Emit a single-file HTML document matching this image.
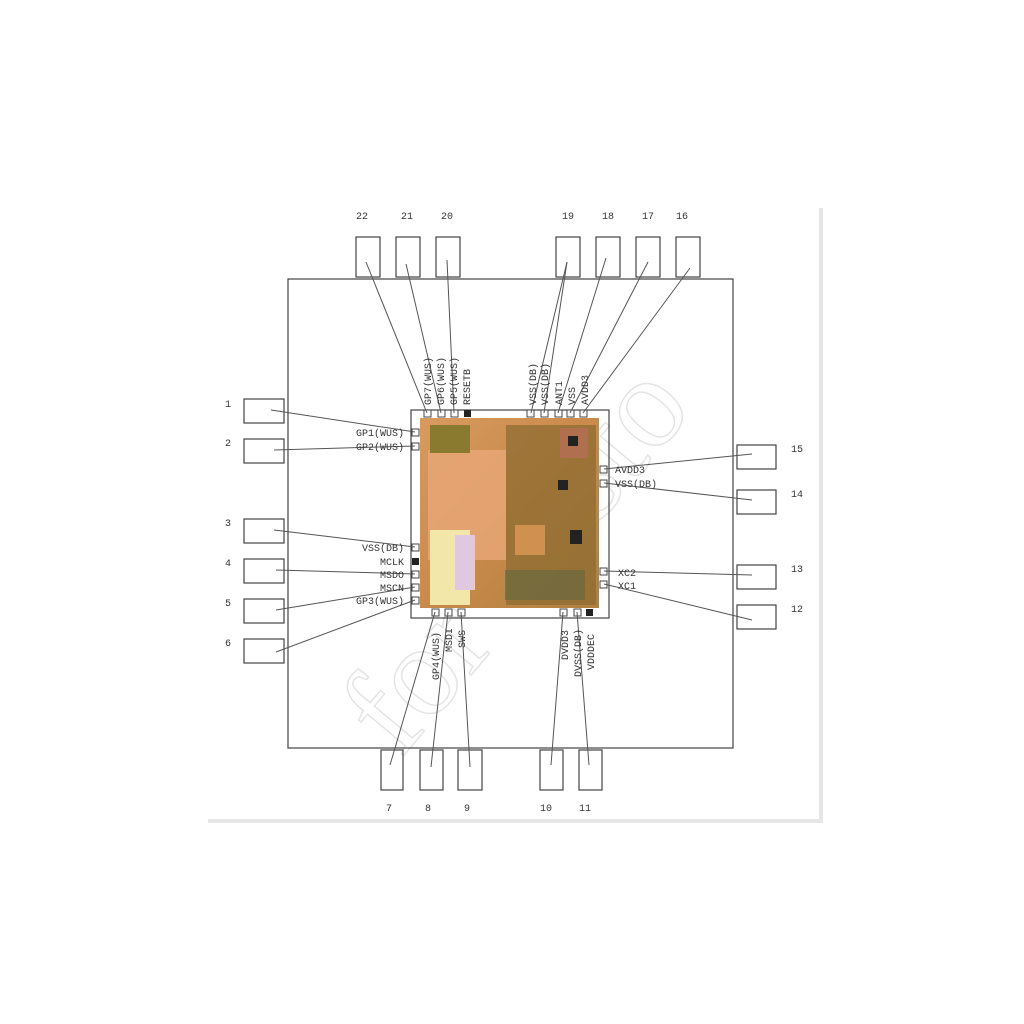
<!DOCTYPE html>
<html><head><style>
html,body{margin:0;padding:0;background:#fff;}
svg{display:block}
text{font-family:"Liberation Mono","DejaVu Sans Mono",monospace;fill:#333;}
</style></head><body>
<svg width="1024" height="1024" viewBox="0 0 1024 1024" xmlns="http://www.w3.org/2000/svg">
<defs>
<linearGradient id="die" x1="0" y1="0" x2="1" y2="1">
<stop offset="0" stop-color="#d89a60"/><stop offset="0.5" stop-color="#c98a4a"/><stop offset="1" stop-color="#b08040"/>
</linearGradient>
</defs>
<rect x="0" y="0" width="1024" height="1024" fill="#fff"/>
<rect x="208" y="208" width="615" height="615" fill="#e6e6e6"/>
<rect x="205" y="205" width="614" height="614" fill="#fff"/>
<text x="400" y="760" font-size="130" style="fill:none;stroke:#e4e4e4;stroke-width:1.5;font-family:'Liberation Serif',serif" transform="rotate(-50 400 760)">for custo</text>
<g fill="none" stroke="#444" stroke-width="1.2">
<rect x="288" y="279" width="445" height="469"/>
<rect x="356" y="237" width="24" height="40"/><rect x="396" y="237" width="24" height="40"/><rect x="436" y="237" width="24" height="40"/>
<rect x="556" y="237" width="24" height="40"/><rect x="596" y="237" width="24" height="40"/><rect x="636" y="237" width="24" height="40"/><rect x="676" y="237" width="24" height="40"/>
<rect x="244" y="399" width="40" height="24"/><rect x="244" y="439" width="40" height="24"/><rect x="244" y="519" width="40" height="24"/>
<rect x="244" y="559" width="40" height="24"/><rect x="244" y="599" width="40" height="24"/><rect x="244" y="639" width="40" height="24"/>
<rect x="737" y="445" width="39" height="24"/><rect x="737" y="490" width="39" height="24"/><rect x="737" y="565" width="39" height="24"/><rect x="737" y="605" width="39" height="24"/>
<rect x="381" y="750" width="22" height="40"/><rect x="420" y="750" width="23" height="40"/><rect x="458" y="750" width="24" height="40"/>
<rect x="540" y="750" width="23" height="40"/><rect x="579" y="750" width="23" height="40"/>
<rect x="411" y="410" width="198" height="208"/>
</g>
<rect x="420" y="418" width="179" height="190" fill="url(#die)"/>
<rect x="428" y="450" width="78" height="110" fill="#e8a878" opacity="0.8"/>
<rect x="430" y="530" width="40" height="75" fill="#f2e6a8"/>
<rect x="455" y="535" width="20" height="55" fill="#e0c8e0"/>
<rect x="430" y="425" width="40" height="28" fill="#8a7a30"/>
<rect x="506" y="425" width="90" height="180" fill="#8a6a30" opacity="0.7"/>
<rect x="560" y="428" width="28" height="30" fill="#b07050"/>
<rect x="568" y="436" width="10" height="10" fill="#222"/>
<rect x="558" y="480" width="10" height="10" fill="#222"/>
<rect x="570" y="530" width="12" height="14" fill="#222"/>
<rect x="515" y="525" width="30" height="30" fill="#d09050"/>
<rect x="505" y="570" width="80" height="30" fill="#6a6a40" opacity="0.7"/>
<g fill="#fff" stroke="#444" stroke-width="1">
<rect x="424" y="410" width="7" height="7"/><rect x="438" y="410" width="7" height="7"/><rect x="451" y="410" width="7" height="7"/>
<rect x="527" y="410" width="7" height="7"/><rect x="541" y="410" width="7" height="7"/><rect x="555" y="410" width="7" height="7"/><rect x="567" y="410" width="7" height="7"/><rect x="580" y="410" width="7" height="7"/>
<rect x="412" y="429" width="7" height="7"/><rect x="412" y="443" width="7" height="7"/><rect x="412" y="544" width="7" height="7"/><rect x="412" y="571" width="7" height="7"/><rect x="412" y="584" width="7" height="7"/><rect x="412" y="597" width="7" height="7"/>
<rect x="600" y="466" width="7" height="7"/><rect x="600" y="480" width="7" height="7"/><rect x="600" y="568" width="7" height="7"/><rect x="600" y="581" width="7" height="7"/>
<rect x="432" y="609" width="7" height="7"/><rect x="445" y="609" width="7" height="7"/><rect x="458" y="609" width="7" height="7"/>
<rect x="560" y="609" width="7" height="7"/><rect x="574" y="609" width="7" height="7"/>
</g>
<g fill="#222"><rect x="464" y="410" width="7" height="7"/><rect x="412" y="558" width="7" height="7"/><rect x="586" y="609" width="7" height="7"/></g>
<g stroke="#555" stroke-width="1" fill="none">
<line x1="366" y1="262" x2="427" y2="413"/><line x1="406" y1="264" x2="441" y2="413"/><line x1="447" y1="260" x2="454" y2="413"/>
<line x1="567" y1="262" x2="531" y2="413"/><line x1="567" y1="262" x2="544" y2="413"/><line x1="606" y1="258" x2="558" y2="413"/><line x1="648" y1="262" x2="570" y2="413"/><line x1="690" y1="268" x2="583" y2="413"/>
<line x1="271" y1="410" x2="415" y2="432"/><line x1="274" y1="450" x2="415" y2="446"/><line x1="274" y1="530" x2="415" y2="547"/>
<line x1="276" y1="570" x2="415" y2="574"/><line x1="276" y1="610" x2="415" y2="587"/><line x1="276" y1="652" x2="415" y2="600"/>
<line x1="752" y1="454" x2="604" y2="469"/><line x1="752" y1="500" x2="604" y2="483"/><line x1="752" y1="575" x2="604" y2="571"/><line x1="752" y1="620" x2="604" y2="584"/>
<line x1="390" y1="765" x2="435" y2="612"/><line x1="431" y1="767" x2="448" y2="612"/><line x1="470" y1="767" x2="461" y2="612"/>
<line x1="551" y1="765" x2="563" y2="612"/><line x1="589" y1="765" x2="577" y2="612"/>
</g>
<g font-size="10" text-anchor="middle">
<text x="362" y="219">22</text><text x="407" y="219">21</text><text x="447" y="219">20</text>
<text x="568" y="219">19</text><text x="608" y="219">18</text><text x="648" y="219">17</text><text x="682" y="219">16</text>
<text x="228" y="407">1</text><text x="228" y="446">2</text><text x="228" y="526">3</text><text x="228" y="566">4</text><text x="228" y="606">5</text><text x="228" y="646">6</text>
<text x="797" y="452">15</text><text x="797" y="497">14</text><text x="797" y="572">13</text><text x="797" y="612">12</text>
<text x="389" y="811">7</text><text x="428" y="811">8</text><text x="467" y="811">9</text><text x="546" y="811">10</text><text x="585" y="811">11</text>
</g>
<g font-size="10">
<text x="404" y="436" text-anchor="end">GP1(WUS)</text>
<text x="404" y="450" text-anchor="end">GP2(WUS)</text>
<text x="404" y="551" text-anchor="end">VSS(DB)</text>
<text x="404" y="565" text-anchor="end">MCLK</text>
<text x="404" y="578" text-anchor="end">MSDO</text>
<text x="404" y="591" text-anchor="end">MSCN</text>
<text x="404" y="604" text-anchor="end">GP3(WUS)</text>
<text x="615" y="473">AVDD3</text>
<text x="615" y="487">VSS(DB)</text>
<text x="618" y="576">XC2</text>
<text x="618" y="589">XC1</text>
<text transform="translate(431,405) rotate(-90)">GP7(WUS)</text>
<text transform="translate(444,405) rotate(-90)">GP6(WUS)</text>
<text transform="translate(457,405) rotate(-90)">GP5(WUS)</text>
<text transform="translate(470,405) rotate(-90)">RESETB</text>
<text transform="translate(536,405) rotate(-90)">VSS(DB)</text>
<text transform="translate(548,405) rotate(-90)">VSS(DB)</text>
<text transform="translate(562,405) rotate(-90)">ANT1</text>
<text transform="translate(575,405) rotate(-90)">VSS</text>
<text transform="translate(588,405) rotate(-90)">AVDD3</text>
<text transform="translate(439,680) rotate(-90)">GP4(WUS)</text>
<text transform="translate(452,652) rotate(-90)">MSDI</text>
<text transform="translate(465,648) rotate(-90)">SWS</text>
<text transform="translate(568,660) rotate(-90)">DVDD3</text>
<text transform="translate(581,677) rotate(-90)">DVSS(DB)</text>
<text transform="translate(594,670) rotate(-90)">VDDDEC</text>
</g>
</svg>
</body></html>
